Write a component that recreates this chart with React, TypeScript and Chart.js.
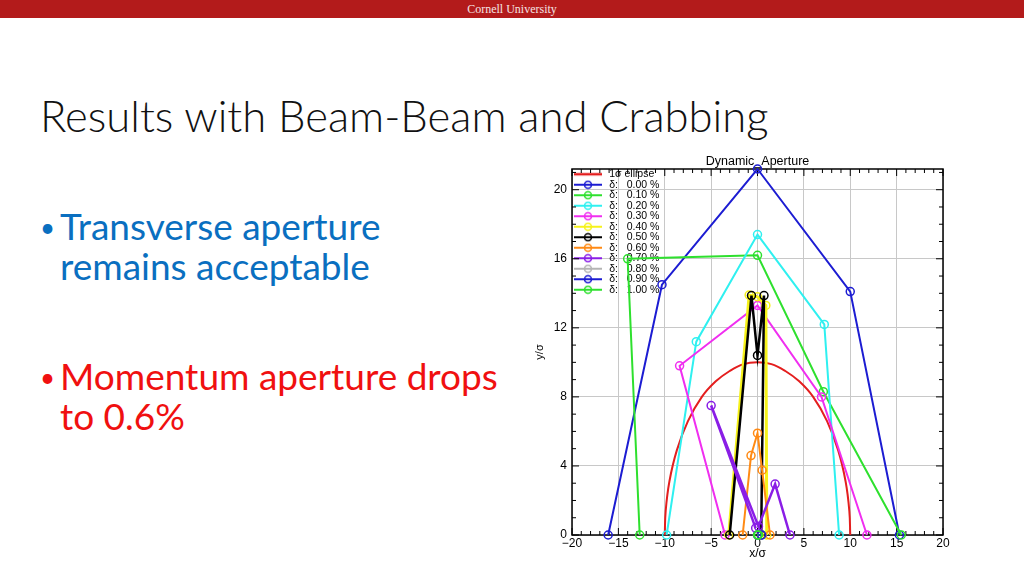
import React, { useEffect, useRef } from "react";
import { Chart, registerables } from "chart.js";

Chart.register(...registerables);

// ---------- data ----------
const ellipseX = [-10, -9.9, -9.5, -8.7, -7.5, -6, -4.5, -3, -1.5, 0, 1.5, 3, 4.5, 6, 7.5, 8.7, 9.5, 9.9, 10];
const ellipseY = [0, 1.4, 3.1, 4.9, 6.6, 8.0, 8.9, 9.5, 9.9, 10, 9.9, 9.5, 8.9, 8.0, 6.6, 4.9, 3.1, 1.4, 0];

const d000X = [-16.1, -10.3, 0, 10.0, 15.3];
const d000Y = [0, 14.5, 21.2, 14.1, 0];
const d010X = [-12.7, -14.0, 0, 7.1, 15.5];
const d010Y = [0, 16.0, 16.2, 8.3, 0];
const d020X = [-9.8, -6.6, 0, 7.2, 8.8];
const d020Y = [0, 11.2, 17.4, 12.2, 0];
const d030X = [-3.5, -8.4, 0, 6.9, 11.8];
const d030Y = [0, 9.8, 13.3, 8.0, 0];
const d040X = [-3.1, -0.9, 0, 0.9, 1.0];
const d040Y = [0, 13.9, 13.8, 13.3, 0];
const d050X = [-3.0, -0.65, 0, 0.7, 0.4];
const d050Y = [0, 13.87, 10.4, 13.87, 0];
const d060X = [-1.6, -0.7, 0, 0.5, 1.35];
const d060Y = [0, 4.6, 5.9, 3.75, 0];
const d070X = [-0.2, -5.0, 0.1, 1.9, 3.5];
const d070Y = [0.4, 7.5, 0.5, 2.95, 0];
const d080X = [0, 0.45];
const d080Y = [0, 0];
const d090X = [0, 0.45];
const d090Y = [0, 0];
const d100X = [0, 0.1];
const d100Y = [0, 0];

const deltaLabels = ["0.00", "0.10", "0.20", "0.30", "0.40", "0.50", "0.60", "0.70", "0.80", "0.90", "1.00"];
const deltaColors = ["#1c1cd2", "#2ee02e", "#2ff0f0", "#f02ef0", "#f6f21a", "#000000", "#ff8a14", "#8a1ee6", "#b4b4b4", "#1c1cd2", "#2ee02e"];
const deltaWidths = [2, 2, 2, 2, 3, 2.5, 2, 2.5, 2, 2, 2];
const deltaXs = [d000X, d010X, d020X, d030X, d040X, d050X, d060X, d070X, d080X, d090X, d100X];
const deltaYs = [d000Y, d010Y, d020Y, d030Y, d040Y, d050Y, d060Y, d070Y, d080Y, d090Y, d100Y];

const xTickValues = [-20, -15, -10, -5, 0, 5, 10, 15, 20];
const yTickValues = [0, 4, 8, 12, 16, 20];

const FONT = '"Liberation Sans", Arial, sans-serif';

function legendIcon(color: string, lw: number, marker: boolean): HTMLCanvasElement {
  const c = document.createElement("canvas");
  c.width = 28;
  c.height = 10;
  const g = c.getContext("2d")!;
  g.strokeStyle = color;
  g.lineWidth = lw;
  g.beginPath();
  g.moveTo(0, 5);
  g.lineTo(28, 5);
  g.stroke();
  if (marker) {
    g.lineWidth = 1.5;
    g.beginPath();
    g.arc(14, 5, 3.5, 0, Math.PI * 2);
    g.stroke();
  }
  return c;
}

const fmt = (v: number) => (v < 0 ? "\u2212" + Math.abs(v) : String(v));

const framePlugin = {
  id: "idlFrame",
  afterLayout(chart: any) {
    const lg = chart.legend;
    if (lg) {
      lg.top = chart.chartArea.top;
      lg.bottom = lg.top + lg.height;
    }
  },
  beforeDatasetsDraw(chart: any) {
    const { ctx, chartArea: a, scales } = chart;
    const xs = scales.x;
    const ys = scales.y;
    ctx.save();
    ctx.strokeStyle = "#000";
    ctx.lineWidth = 1;
    ctx.beginPath();
    for (let v = -20; v <= 20; v++) {
      const px = xs.getPixelForValue(v);
      const len = v % 5 === 0 ? 7 : 4;
      ctx.moveTo(px, a.bottom);
      ctx.lineTo(px, a.bottom - len);
      ctx.moveTo(px, a.top);
      ctx.lineTo(px, a.top + len);
    }
    for (let v = 0; v <= 21; v++) {
      const py = ys.getPixelForValue(v);
      const len = v % 4 === 0 ? 7 : 4;
      ctx.moveTo(a.left, py);
      ctx.lineTo(a.left + len, py);
      ctx.moveTo(a.right, py);
      ctx.lineTo(a.right - len, py);
    }
    ctx.stroke();
    ctx.lineWidth = 1.5;
    ctx.strokeRect(a.left, a.top, a.right - a.left, a.bottom - a.top);
    ctx.restore();
  },
};

function DAChart() {
  const ref = useRef<HTMLCanvasElement>(null);
  useEffect(() => {
    const datasets: any[] = [];
    datasets.push({
      label: "1\u03c3 ellipse",
      data: ellipseX.map((x, i) => ({ x, y: ellipseY[i] })),
      showLine: true,
      borderColor: "#e41e1e",
      backgroundColor: "rgba(0,0,0,0)",
      borderWidth: 2,
      pointRadius: 0,
      tension: 0.4,
      clip: false,
      order: 0,
    });
    deltaLabels.forEach((lab, i) => {
      datasets.push({
        label: "\u03b4:   " + lab + " %",
        data: deltaXs[i].map((x, j) => ({ x, y: deltaYs[i][j] })),
        showLine: true,
        borderColor: deltaColors[i],
        backgroundColor: "rgba(0,0,0,0)",
        borderWidth: deltaWidths[i],
        pointRadius: 4,
        pointBorderWidth: 1.5,
        pointBorderColor: deltaColors[i],
        pointBackgroundColor: "rgba(0,0,0,0)",
        tension: 0,
        clip: false,
        order: -(i + 1),
      });
    });

    const chart = new Chart(ref.current!, {
      type: "scatter",
      data: { datasets },
      plugins: [framePlugin],
      options: {
        animation: false,
        responsive: false,
        events: [],
        layout: { padding: { left: 0, right: 0, top: 0, bottom: 0 } },
        plugins: {
          tooltip: { enabled: false },
          title: {
            display: true,
            text: "Dynamic_Aperture",
            color: "#000",
            font: { family: FONT, size: 12.5, weight: "normal" },
            padding: { top: 4, bottom: 0 },
          },
          legend: {
            display: true,
            position: "chartArea" as any,
            align: "start",
            labels: {
              usePointStyle: true,
              pointStyleWidth: 32,
              padding: 0,
              color: "#000",
              font: { family: FONT, size: 10.5 },
              generateLabels: (ch: any) =>
                ch.data.datasets.map((ds: any, i: number) => ({
                  text: ds.label,
                  fillStyle: ds.borderColor,
                  strokeStyle: ds.borderColor,
                  lineWidth: 0,
                  hidden: false,
                  datasetIndex: i,
                  fontColor: "#000",
                  pointStyle: legendIcon(ds.borderColor, i === 0 ? 2.5 : 2, i !== 0),
                })),
            },
          },
        },
        scales: {
          x: {
            type: "linear",
            min: -20,
            max: 20,
            afterBuildTicks: (s: any) => {
              s.ticks = xTickValues.map((v) => ({ value: v }));
            },
            afterFit: (s: any) => {
              s.height = 35;
              s.paddingLeft = 0;
              s.paddingRight = 0;
            },
            ticks: {
              color: "#000",
              padding: 1,
              maxRotation: 0,
              font: { family: FONT, size: 12 },
              callback: (v: any) => fmt(Number(v)),
            },
            grid: { color: "#c8c8c8", lineWidth: 1, drawTicks: false },
            border: { display: false },
            title: {
              display: true,
              text: "x/\u03c3",
              color: "#000",
              font: { family: FONT, size: 12 },
              padding: { top: 0, bottom: 9 },
            },
          },
          y: {
            type: "linear",
            min: 0,
            max: 21.2,
            afterBuildTicks: (s: any) => {
              s.ticks = yTickValues.map((v) => ({ value: v }));
            },
            afterFit: (s: any) => {
              s.width = 42;
              s.paddingTop = 0;
              s.paddingBottom = 0;
            },
            ticks: {
              color: "#000",
              padding: 5,
              font: { family: FONT, size: 12 },
              callback: (v: any) => fmt(Number(v)),
            },
            grid: { color: "#c8c8c8", lineWidth: 1, drawTicks: false },
            border: { display: false },
            title: {
              display: true,
              text: "y/\u03c3",
              color: "#000",
              font: { family: FONT, size: 11 },
              padding: { top: 3, bottom: 0 },
            },
          },
          yRight: {
            type: "linear",
            position: "right",
            min: 0,
            max: 21.2,
            afterFit: (s: any) => {
              s.width = 42;
              s.paddingTop = 0;
              s.paddingBottom = 0;
            },
            ticks: { display: false },
            grid: { display: false, drawTicks: false },
            border: { display: false },
          },
        },
      } as any,
    });
    return () => chart.destroy();
  }, []);
  return (
    <canvas
      ref={ref}
      width={455}
      height={420}
      style={{ position: "absolute", left: 530, top: 150, width: 455, height: 420 }}
    />
  );
}

const BODY_FONT = 'Lato, "Open Sans", "Noto Sans", sans-serif';

function Line(props: { text: string; left: number; baseline: number; size: number; color: string; weight?: number }) {
  const { text, left, baseline, size, color, weight } = props;
  return (
    <div
      style={{
        position: "absolute",
        left,
        top: baseline - 0.887 * size,
        fontSize: size,
        lineHeight: size + "px",
        color,
        fontFamily: BODY_FONT,
        fontWeight: weight ?? 400,
        whiteSpace: "nowrap",
      }}
    >
      {text}
    </div>
  );
}

export default function App() {
  return (
    <div
      style={{
        position: "fixed",
        left: 0,
        top: 0,
        width: 1024,
        height: 576,
        background: "#fff",
        overflow: "hidden",
      }}
    >
      <div style={{ position: "absolute", left: 0, top: 0, width: 1024, height: 18, background: "#b31b1b" }} />
      <div
        style={{
          position: "absolute",
          left: 0,
          top: 0,
          width: 1024,
          height: 18,
          lineHeight: "18px",
          textAlign: "center",
          color: "#f3e3e3",
          fontFamily: '"Liberation Serif", serif',
          fontSize: 12,
        }}
      >
        Cornell University
      </div>
      <Line text="Results with Beam-Beam and Crabbing" left={40} baseline={133} size={43.6} color="#111" weight={300} />
      <Line text={"\u2022"} left={40} baseline={237} size={26} color="#0a6fc0" />
      <Line text="Transverse aperture" left={60} baseline={240} size={37} color="#0a6fc0" />
      <Line text="remains acceptable" left={60} baseline={280} size={37} color="#0a6fc0" />
      <Line text={"\u2022"} left={40} baseline={387} size={26} color="#f01010" />
      <Line text="Momentum aperture drops" left={60} baseline={390} size={37} color="#f01010" />
      <Line text="to 0.6%" left={60} baseline={430} size={37} color="#f01010" />
      <DAChart />
    </div>
  );
}
